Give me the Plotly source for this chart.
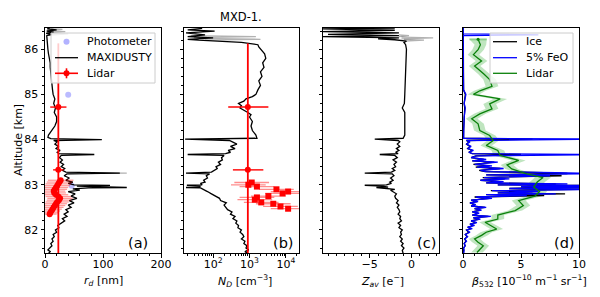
import plotly.graph_objects as go

# ===================== DATA =====================
# ---- panel (a): dust radius r_d [nm] ----
rd_alt = [81.48, 81.52, 81.56, 81.60, 81.65, 81.70, 81.75, 81.80, 81.85, 81.90, 81.95, 82.00,
          82.05, 82.10, 82.15, 82.20, 82.25, 82.30, 82.35, 82.40, 82.45, 82.50, 82.55, 82.60,
          82.65, 82.70, 82.75, 82.80, 82.85, 82.88, 82.91, 82.93, 82.94, 82.955, 82.97, 82.985,
          83.00, 83.03, 83.06, 83.10, 83.15, 83.20, 83.24, 83.26, 83.28, 83.32, 83.36, 83.40,
          83.45, 83.50, 83.55, 83.60, 83.65, 83.67, 83.69, 83.72, 83.76, 83.80, 83.85, 83.90,
          83.95, 83.98, 84.00, 84.02, 84.05, 84.10, 84.20, 84.30, 84.40, 84.50, 84.55, 84.60,
          84.70, 84.80, 84.90, 85.00, 85.10, 85.20, 85.30, 85.40, 85.50, 85.60, 85.70, 85.80,
          85.90, 86.00, 86.10, 86.20, 86.30, 86.33, 86.35, 86.38, 86.40, 86.43, 86.45, 86.47]
rd_val = [6, 9, 5, 9, 12, 10, 14, 12, 16, 14, 20, 18,
          24, 22, 29, 34, 30, 38, 33, 40, 36, 45, 40, 50,
          42, 55, 45, 52, 40, 60, 48, 75, 141, 62, 55, 112,
          50, 40, 48, 36, 42, 33, 38, 129, 36, 30, 34, 28,
          32, 26, 30, 25, 28, 85, 24, 21, 26, 19, 23, 17,
          21, 15, 98, 10, 5, 6, 12, 17, 20, 20, 18, 16,
          18, 15, 17, 14, 13, 12, 11, 10, 10, 9, 9, 7,
          6, 5, 4, 3, 3, 12, 2, 15, 3, 20, 4, 8]
rd_gray_alt = [86.31, 86.34, 86.36, None, 86.37, 86.39, 86.41, None, 86.42, 86.44, 86.46,
               None, 83.25, 83.26, 83.27]
rd_gray_val = [3, 40, 3, None, 3, 35, 3, None, 4, 30, 4, None, 40, 141, 38]
photo_alt = [86.17, 84.99, 82.98]
photo_rd = [37, 40, 46]
lid_rd_alt = [84.72, 83.33]
lid_rd = [23, 23]
lid_rd_err = [14, 9]
lidc_alt = [83.10, 83.06, 83.02, 82.98, 82.94, 82.90, 82.86, 82.82, 82.78, 82.74,
            82.70, 82.66, 82.62, 82.58, 82.54, 82.50, 82.46, 82.42, 82.38, 82.35]
lidc_rd = [27, 25, 23, 21, 19, 17, 15, 16, 19, 23, 26, 24, 21, 19, 17, 15, 13, 11, 9, 8]
lidc_rd_err = [22, 22, 22, 22, 21, 21, 20, 20, 21, 22, 22, 21, 20, 19, 18, 17, 16, 15, 14, 12]
lid_line_alt = [81.40, 86.13]
lid_line_rd = [23, 23]

# ---- panel (b): dust number density N_D [cm^-3] ----
nd_alt = [81.48, 81.52, 81.56, 81.60, 81.65, 81.70, 81.75, 81.80, 81.85, 81.90, 81.95, 82.00,
          82.05, 82.10, 82.15, 82.20, 82.25, 82.30, 82.35, 82.40, 82.45, 82.50, 82.55, 82.60,
          82.65, 82.70, 82.75, 82.80, 82.85, 82.88, 82.90, 82.93, 82.94, 82.95, 82.97, 82.99,
          83.00, 83.03, 83.06, 83.10, 83.15, 83.20, 83.24, 83.26, 83.28, 83.32, 83.36, 83.40,
          83.45, 83.50, 83.55, 83.60, 83.65, 83.67, 83.69, 83.72, 83.76, 83.80, 83.85, 83.90,
          83.95, 83.98, 84.01, 84.03, 84.10, 84.20, 84.30, 84.40, 84.50, 84.55, 84.60, 84.65,
          84.70, 84.75, 84.80, 84.85, 84.90, 84.95, 85.00, 85.10, 85.20, 85.30, 85.40, 85.50,
          85.60, 85.70, 85.80, 85.90, 86.00, 86.05, 86.10, 86.15, 86.20, 86.22, 86.25, 86.28,
          86.32, 86.36, 86.40, 86.43, 86.46]
nd_val = [900, 750, 950, 800, 850, 700, 750, 600, 700, 650, 550, 600,
          480, 500, 420, 450, 350, 400, 300, 330, 250, 220, 200, 230,
          160, 150, 120, 90, 70, 60, 50, 45, 18, 40, 45, 19,
          50, 45, 60, 55, 70, 65, 80, 18, 90, 110, 130, 120,
          160, 140, 180, 170, 200, 20, 220, 300, 260, 400, 300, 450,
          320, 280, 17, 1600, 1500, 1200, 1100, 1200, 1000, 1100, 900, 700,
          550, 600, 500, 700, 800, 1200, 1500, 1700, 2000, 1800, 2200, 2000,
          2500, 2300, 2800, 2600, 2000, 1800, 1700, 600, 40, 20, 100, 20,
          60, 18, 110, 20, 50]
nd_gray_alt = [86.20, 86.22, 86.24, None, 86.26, 86.28, 86.30]
nd_gray_val = [60, 2000, 40, None, 30, 1500, 25]
lid_nd_alt = [84.72, 83.33]
lid_nd = [900, 900]
lid_nd_lo = [260, 350]
lid_nd_hi = [3300, 2400]
lidc_nd_alt = [83.05, 83.00, 82.96, 82.90, 82.85, 82.81, 82.75, 82.72, 82.67, 82.61, 82.58, 82.52, 82.47]
lidc_nd = [1150, 930, 1600, 5500, 11500, 8100, 3300, 1600, 1400, 2100, 4500, 7100, 11500]
lidc_nd_fac = [3.0, 3.0, 3.0, 3.0, 3.0, 3.0, 3.0, 3.0, 3.0, 3.0, 3.0, 3.0, 3.0]
lid_line_nd = [900, 900]

# ---- panel (c): average charge Z_av [e-] ----
z_alt = [81.48, 81.55, 81.60, 81.65, 81.70, 81.75, 81.80, 81.85, 81.90, 81.95, 82.00, 82.05,
         82.10, 82.15, 82.20, 82.25, 82.30, 82.35, 82.40, 82.45, 82.50, 82.55, 82.60, 82.65,
         82.70, 82.75, 82.80, 82.85, 82.88, 82.90, 82.92, 82.94, 82.95, 82.97, 82.99, 83.00,
         83.03, 83.06, 83.10, 83.15, 83.20, 83.24, 83.26, 83.28, 83.32, 83.36, 83.40, 83.45,
         83.50, 83.55, 83.60, 83.65, 83.67, 83.69, 83.72, 83.76, 83.80, 83.85, 83.90, 83.95,
         83.98, 84.01, 84.03, 84.10, 84.30, 84.50, 84.60, 84.70, 84.75, 84.80, 85.00, 85.20,
         85.50, 85.80, 86.00, 86.10, 86.15, 86.18, 86.20, 86.21, 86.23, 86.25, 86.28, 86.30,
         86.33, 86.36, 86.39, 86.42, 86.45, 86.47]
z_val = [-1.0, -1.1, -0.9, -1.2, -1.0, -1.3, -1.1, -1.4, -1.2, -1.3, -1.1, -1.5,
         -1.3, -1.6, -1.2, -1.4, -1.3, -1.6, -1.4, -1.5, -1.7, -1.5, -1.8, -1.6,
         -1.9, -2.0, -1.8, -2.2, -2.5, -2.0, -3.2, -4.2, -2.8, -3.5, -5.6, -3.0,
         -2.4, -2.6, -2.2, -2.5, -2.1, -2.3, -5.6, -2.4, -2.0, -2.3, -1.9, -2.1,
         -1.8, -2.2, -1.7, -2.0, -3.8, -1.6, -1.9, -1.5, -1.8, -1.4, -1.7, -1.4,
         -1.6, -4.4, -1.0, -0.8, -0.8, -0.75, -0.8, -1.1, -1.0, -0.85, -0.8, -0.75,
         -0.7, -0.65, -0.6, -0.7, -0.9, -0.6, -1.2, -2.0, -4.0, -1.5, -10.6, -1.5,
         -10.0, -1.5, -10.6, -2.0, -10.6, -2.0]
z_gray_alt = [86.18, 86.20, 86.22, None, 86.23, 86.25, 86.27, None, 86.28, 86.30, 86.32]
z_gray_val = [-0.8, 1.5, -0.9, None, -1.2, 2.6, -1.2, None, -1.5, -0.3, -1.5]

# ---- panel (d): backscatter beta_532 [1e-10 m^-1 sr^-1] ----
b_alt = [81.48, 81.55, 81.60, 81.65, 81.70, 81.75, 81.80, 81.85, 81.90, 81.95, 82.00, 82.03,
         82.06, 82.10, 82.13, 82.16, 82.20, 82.24, 82.27, 82.30, 82.33, 82.37, 82.40, 82.44,
         82.47, 82.50, 82.53, 82.56, 82.60, 82.63, 82.66, 82.70, 82.73, 82.76, 82.78, 82.80,
         82.82, 82.85, 82.87, 82.90, 82.92, 82.94, 82.96, 82.98, 83.00, 83.02, 83.04, 83.07,
         83.10, 83.13, 83.16, 83.20, 83.22, 83.25, 83.27, 83.29, 83.32, 83.36, 83.39, 83.42,
         83.45, 83.50, 83.53, 83.56, 83.60, 83.64, 83.67, 83.69, 83.72, 83.76, 83.80, 83.85,
         83.90, 83.95, 83.98, 84.01, 84.03, 84.20, 84.50, 84.70, 84.80, 85.00, 85.10, 85.50,
         86.00, 86.30, 86.32, 86.34, 86.47]
b_feo = [0.05, 0.1, 0.05, 0.2, 0.1, 0.3, 0.15, 0.4, 0.2, 0.6, 0.3, 0.8,
         0.4, 1.0, 0.6, 1.2, 0.7, 1.5, 0.9, 2.4, 0.8, 1.4, 0.8, 1.6,
         1.0, 2.0, 0.7, 1.1, 0.6, 1.3, 0.7, 2.5, 1.1, 5.5, 2.0, 8.0,
         3.0, 6.5, 2.5, 12, 4.0, 12, 5.0, 12, 3.0, 9.0, 2.0, 3.5,
         1.5, 4.0, 1.8, 7.5, 2.0, 12, 8.0, 2.0, 1.5, 3.5, 1.2, 2.5,
         1.0, 3.0, 0.8, 2.0, 0.7, 1.2, 12, 0.8, 0.5, 0.9, 0.4, 0.7,
         0.3, 0.6, 0.3, 12, 0.05, 0.05, 0.1, 0.2, 0.1, 0.25, 0.05, 0.03,
         0.02, 0.02, 6.5, 0.02, 0.02]
b_ice = [0.05, 0.08, 0.05, 0.18, 0.1, 0.25, 0.15, 0.35, 0.2, 0.5, 0.3, 0.7,
         0.4, 0.9, 0.6, 1.1, 0.7, 1.4, 0.9, 2.2, 0.8, 1.3, 0.8, 1.5,
         1.0, 1.9, 0.7, 1.0, 0.6, 1.2, 0.7, 2.3, 1.0, 7.0, 2.0, 8.8,
         3.0, 6.0, 2.4, 10.5, 4.0, 8.0, 5.0, 12, 3.0, 8.0, 2.0, 3.2,
         1.5, 3.6, 1.7, 8.5, 2.0, 9.0, 7.0, 1.9, 1.4, 3.2, 1.1, 2.3,
         0.9, 2.7, 0.8, 1.8, 0.7, 1.1, 5.0, 0.8, 0.5, 0.8, 0.4, 0.6,
         0.3, 0.5, 0.3, 6.0, 0.05, 0.05, 0.1, 0.15, 0.1, 0.2, 0.05, 0.03,
         0.02, 0.02, 0.05, 0.02, 0.02]
lb_alt = [81.50, 81.58, 81.65, 81.73, 81.80, 81.88, 81.95, 82.02, 82.10, 82.17, 82.24, 82.33,
          82.43, 82.54, 82.65, 82.75, 82.85, 82.95, 83.06, 83.16, 83.24, 83.35, 83.44, 83.54,
          83.65, 83.76, 83.87, 83.98, 84.09, 84.20, 84.35, 84.46, 84.57, 84.68, 84.79, 84.90,
          85.00, 85.08, 85.18, 85.33, 85.45, 85.52, 85.63, 85.74, 85.88, 85.99, 86.10, 86.22]
lb_val = [1.2, 1.5, 1.75, 1.3, 1.0, 1.6, 2.0, 2.9, 2.4, 1.9, 3.0, 3.0,
          4.5, 5.2, 4.8, 6.2, 6.6, 6.1, 6.4, 6.9, 5.5, 4.2, 3.8, 4.8,
          3.2, 3.0, 2.0, 2.6, 2.3, 1.45, 1.3, 0.75, 1.45, 2.5, 2.3, 3.2,
          0.9, 1.45, 2.5, 2.3, 1.8, 1.45, 1.0, 1.6, 0.9, 1.3, 1.5, 1.3]
lb_err = [0.5, 0.5, 0.5, 0.5, 0.5, 0.5, 0.5, 0.55, 0.5, 0.5, 0.55, 0.55,
          0.6, 0.6, 0.6, 0.65, 0.65, 0.65, 0.65, 0.7, 0.6, 0.55, 0.55, 0.6,
          0.55, 0.55, 0.5, 0.5, 0.5, 0.5, 0.5, 0.5, 0.5, 0.55, 0.55, 0.6,
          0.5, 0.5, 0.55, 0.55, 0.5, 0.5, 0.5, 0.5, 0.5, 0.5, 0.5, 0.75]

legend_a_labels = ["Photometer", "MAXIDUSTY", "Lidar"]
legend_d_labels = ["Ice", "5% FeO", "Lidar"]

# ===================== FIGURE =====================
W, H = 600, 297
OFF = 8          # page body margin of the html page
FONT = "DejaVu Sans"
YR = [81.49, 86.47]
COLS = [(45, 161), (184, 299), (323, 439), (463, 579)]
YTOP, YBOT = 28, 253


def xp(p):
    return (p - OFF) / W


def yp(p):
    return 1 - (p - OFF) / H


fig = go.Figure()
RED = "#ff0000"
GRAY = "rgba(0,0,0,0.3)"
PHOTO = "rgba(60,60,255,0.35)"
GREEN = "#0a800a"
BLUE = "#0000ff"
LW = 1.3

# ---- (a)
fig.add_trace(go.Scatter(x=photo_rd, y=photo_alt, mode="markers", showlegend=False,
                         marker=dict(color=PHOTO, size=6), xaxis="x", yaxis="y"))
fig.add_trace(go.Scatter(x=rd_gray_val, y=rd_gray_alt, mode="lines", showlegend=False,
                         line=dict(color=GRAY, width=LW), xaxis="x", yaxis="y"))
fig.add_trace(go.Scatter(x=rd_val, y=rd_alt, mode="lines", showlegend=False,
                         line=dict(color="black", width=LW), xaxis="x", yaxis="y"))
fig.add_trace(go.Scatter(x=lid_line_rd, y=lid_line_alt, mode="lines", showlegend=False,
                         line=dict(color=RED, width=1.8), xaxis="x", yaxis="y"))
fig.add_trace(go.Scatter(x=lidc_rd, y=lidc_alt, mode="markers", showlegend=False,
                         marker=dict(color=RED, size=6),
                         error_x=dict(type="data", array=lidc_rd_err, color="rgba(255,0,0,0.4)",
                                      thickness=1.3, width=0),
                         xaxis="x", yaxis="y"))
fig.add_trace(go.Scatter(x=lid_rd, y=lid_rd_alt, mode="markers", showlegend=False,
                         marker=dict(color=RED, size=6),
                         error_x=dict(type="data", array=lid_rd_err, color=RED, thickness=1.4, width=0),
                         xaxis="x", yaxis="y"))

# ---- (b)
fig.add_trace(go.Scatter(x=nd_gray_val, y=nd_gray_alt, mode="lines", showlegend=False,
                         line=dict(color=GRAY, width=LW), xaxis="x2", yaxis="y2"))
fig.add_trace(go.Scatter(x=nd_val, y=nd_alt, mode="lines", showlegend=False,
                         line=dict(color="black", width=LW), xaxis="x2", yaxis="y2"))
fig.add_trace(go.Scatter(x=lid_line_nd, y=lid_line_alt, mode="lines", showlegend=False,
                         line=dict(color=RED, width=1.8), xaxis="x2", yaxis="y2"))
fig.add_trace(go.Scatter(x=lidc_nd, y=lidc_nd_alt, mode="markers", showlegend=False,
                         marker=dict(color=RED, size=6, symbol="square"),
                         error_x=dict(type="data",
                                      array=[v * f - v for v, f in zip(lidc_nd, lidc_nd_fac)],
                                      arrayminus=[v - v / f for v, f in zip(lidc_nd, lidc_nd_fac)],
                                      color="rgba(255,0,0,0.45)", thickness=1.3, width=0),
                         xaxis="x2", yaxis="y2"))
fig.add_trace(go.Scatter(x=lid_nd, y=lid_nd_alt, mode="markers", showlegend=False,
                         marker=dict(color=RED, size=6),
                         error_x=dict(type="data",
                                      array=[h - v for v, h in zip(lid_nd, lid_nd_hi)],
                                      arrayminus=[v - l for v, l in zip(lid_nd, lid_nd_lo)],
                                      color=RED, thickness=1.4, width=0),
                         xaxis="x2", yaxis="y2"))

# ---- (c)
fig.add_trace(go.Scatter(x=z_gray_val, y=z_gray_alt, mode="lines", showlegend=False,
                         line=dict(color=GRAY, width=LW), xaxis="x3", yaxis="y3"))
fig.add_trace(go.Scatter(x=z_val, y=z_alt, mode="lines", showlegend=False,
                         line=dict(color="black", width=LW), xaxis="x3", yaxis="y3"))

# ---- (d)
band_x = [v - e for v, e in zip(lb_val, lb_err)] + [v + e for v, e in zip(lb_val[::-1], lb_err[::-1])]
band_y = lb_alt + lb_alt[::-1]
fig.add_trace(go.Scatter(x=band_x, y=band_y, mode="lines", fill="toself", showlegend=False,
                         fillcolor="rgba(0,150,0,0.25)", line=dict(width=0), hoverinfo="skip",
                         xaxis="x4", yaxis="y4"))
fig.add_trace(go.Scatter(x=b_ice, y=b_alt, mode="lines", showlegend=False,
                         line=dict(color="black", width=LW), xaxis="x4", yaxis="y4"))
fig.add_trace(go.Scatter(x=b_feo, y=b_alt, mode="lines", showlegend=False,
                         line=dict(color=BLUE, width=LW), xaxis="x4", yaxis="y4"))
fig.add_trace(go.Scatter(x=lb_val, y=lb_alt, mode="lines", showlegend=False,
                         line=dict(color=GREEN, width=LW), xaxis="x4", yaxis="y4"))
fig.add_trace(go.Scatter(x=lb_val[-1:], y=lb_alt[-1:], mode="markers", showlegend=False,
                         marker=dict(color=GREEN, size=3),
                         error_x=dict(type="data", array=lb_err[-1:], color="rgba(0,150,0,0.35)",
                                      thickness=2, width=0),
                         xaxis="x4", yaxis="y4"))

# ---- axes
tickfont = dict(family=FONT, size=11, color="black")
base = dict(showline=True, linecolor="black", linewidth=1, mirror=True, ticks="outside",
            ticklen=3.5, tickwidth=1, tickcolor="black", showgrid=False, zeroline=False,
            tickfont=tickfont, automargin=False)
yminor = dict(tickmode="array", tickvals=[81.6 + 0.2 * i for i in range(25)], ticks="outside",
              ticklen=2, tickwidth=0.8, tickcolor="black", showgrid=False)
ydom = [yp(YBOT), yp(YTOP)]

lay = {}
for i, (x0, x1) in enumerate(COLS):
    sfx = "" if i == 0 else str(i + 1)
    lay["yaxis" + sfx] = dict(base, domain=ydom, range=YR, anchor="x" + sfx,
                              tickmode="array", tickvals=[82, 83, 84, 85, 86],
                              showticklabels=(i == 0), minor=yminor)
    lay["xaxis" + sfx] = dict(base, domain=[xp(x0), xp(x1)], anchor="y" + sfx,
                              ticklabelstandoff=-3)

mtick = dict(ticks="outside", ticklen=2, tickwidth=0.8, tickcolor="black", tickmode="array")
lay["xaxis"].update(range=[0, 200], tickmode="array", tickvals=[0, 100, 200],
                    minor=dict(mtick, tickvals=[20 * i for i in range(1, 10) if i != 5]))
lay["xaxis2"].update(type="log", range=[1.2, 4.36], tickmode="array",
                     tickvals=[100, 1000, 10000],
                     ticktext=["10<sup>2</sup>", "10<sup>3</sup>", "10<sup>4</sup>"],
                     minor=dict(mtick, tickvals=[k * 10 ** e for e in range(1, 5) for k in range(2, 10)]))
lay["xaxis3"].update(range=[-10.6, 3.3], tickmode="array", tickvals=[-5, 0],
                     ticktext=["\u22125", "0"],
                     minor=dict(mtick, tickvals=[i for i in range(-10, 4) if i not in (-5, 0)]))
lay["xaxis4"].update(range=[0, 10], tickmode="array", tickvals=[0, 5, 10],
                     minor=dict(mtick, tickvals=[i for i in range(1, 10) if i != 5]))

ann = []
shapes = []


def add_text(txt, x, y, size=11, angle=0, anchor="center"):
    ann.append(dict(text=txt, x=xp(x), y=yp(y), xref="paper", yref="paper", showarrow=False,
                    xanchor=anchor, yanchor="middle", textangle=angle, borderpad=0,
                    font=dict(family=FONT, size=size, color="black")))


def seg(x0, y0, x1, y1, color, width):
    shapes.append(dict(type="line", xref="paper", yref="paper", x0=xp(x0), y0=yp(y0),
                       x1=xp(x1), y1=yp(y1), line=dict(color=color, width=width), layer="above"))


def dot(x, y, r, color):
    shapes.append(dict(type="circle", xref="paper", yref="paper", x0=xp(x - r), x1=xp(x + r),
                       y0=yp(y + r), y1=yp(y - r), fillcolor=color, line=dict(width=0),
                       layer="above"))


def box(x0, y0, x1, y1):
    shapes.append(dict(type="rect", xref="paper", yref="paper", x0=xp(x0), x1=xp(x1),
                       y0=yp(y1), y1=yp(y0), fillcolor="rgba(255,255,255,0.8)",
                       line=dict(color="#cccccc", width=1), layer="above"))


# legend (a)
box(51, 33, 155, 83)
rows = [41.7, 57.7, 73.3]
dot(66.5, rows[0], 3, PHOTO)
seg(55, rows[1], 78, rows[1], "black", LW)
seg(55, rows[2], 78, rows[2], RED, 1.6)
seg(66.5, rows[2] - 5, 66.5, rows[2] + 5, RED, 1.6)
dot(66.5, rows[2], 3, RED)
for lbl, r in zip(legend_a_labels, rows):
    add_text(lbl, 86, r, 11, anchor="left")

# legend (d)
box(490, 33, 573, 83)
seg(493, rows[0], 517, rows[0], "black", LW)
seg(493, rows[1], 517, rows[1], BLUE, LW)
seg(493, rows[2], 517, rows[2], GREEN, LW)
for lbl, r in zip(legend_d_labels, rows):
    add_text(lbl, 525, r, 11, anchor="left")

add_text("MXD-1.", 241, 17, 11.5)
add_text("Altitude [km]", 18, 140, 11, -90)
add_text("<i>r</i><sub><i>d</i></sub> [nm]", 103, 281)
add_text("<i>N</i><sub><i>D</i></sub> [cm<sup>\u22123</sup>]", 245, 281)
add_text("<i>Z</i><sub><i>av</i></sub> [e<sup>\u2212</sup>]", 382, 281)
add_text("<i>\u03b2</i><sub>532</sub> [10<sup>\u221210</sup> m<sup>\u22121</sup> sr<sup>\u22121</sup>]", 529, 281)
for lbl, px in zip(["(a)", "(b)", "(c)", "(d)"], [138, 283, 426, 564]):
    add_text(lbl, px, 243, 14.5)

fig.update_layout(
    width=W, height=H, margin=dict(l=0, r=0, t=0, b=0, autoexpand=False),
    paper_bgcolor="white", plot_bgcolor="white", showlegend=False,
    font=dict(family=FONT, size=11, color="black"),
    annotations=ann, shapes=shapes,
    **lay,
)

fig.write_html("out.html")
